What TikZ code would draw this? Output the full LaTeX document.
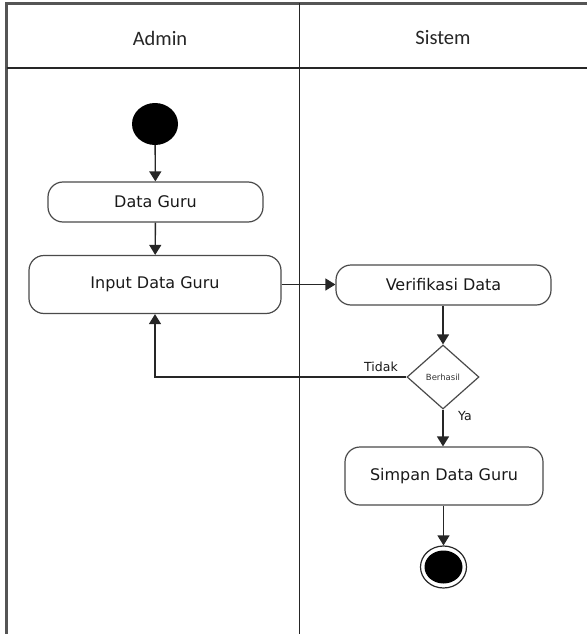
\documentclass[tikz,border=0pt]{standalone}
\usepackage{fontspec}
\setmainfont{DejaVu Sans}
\newfontfamily\hdrfont{Carlito}
\usetikzlibrary{shapes.geometric,arrows.meta}
\definecolor{linegray}{HTML}{4A4A4A}
\definecolor{framegray}{HTML}{555555}
\tikzset{
  act/.style={draw=linegray, line width=1.2pt, rounded corners=15pt, align=center,
    font=\fontsize{16}{19}\selectfont, text=black!90, inner sep=0pt},
  flow/.style={draw=black!85, line width=1.4pt, -{Triangle[width=12pt,length=10pt]}},
  lane/.style={draw=black!85, line width=1.1pt},
  hdr/.style={font=\hdrfont\fontsize{20.5}{24}\selectfont, text=black!85},
  lbl/.style={font=\fontsize{12.5}{14}\selectfont, text=black!90, inner sep=0pt}
}
\begin{document}
\begin{tikzpicture}[x=1pt,y=-1pt]
\useasboundingbox (0,0) rectangle (587,634);
% frame
\draw[draw=framegray, line width=2.6pt] (6.5,634) -- (6.5,3.5) -- (587,3.5);
\draw[lane] (6.5,68) -- (587,68);
\draw[lane] (299.5,3.5) -- (299.5,634);
\node[hdr] (hAdmin) at (160,38) {Admin};
\node[hdr] (hSistem) at (443,38) {Sistem};
% nodes
\node[ellipse, fill=black, minimum width=46pt, minimum height=42pt, inner sep=0pt] (start) at (155,124) {};
\node[act, minimum width=215pt, minimum height=40pt] (data) at (155.5,202) {Data Guru};
\node[act, minimum width=252pt, minimum height=58pt] (input) at (155,284.5) {Input Data Guru};
\node[act, minimum width=215pt, minimum height=40pt] (verif) at (443.5,285) {Verifikasi Data};
\node[diamond, draw=linegray, line width=1.2pt, minimum width=72pt, minimum height=64pt, inner sep=0pt,
  font=\fontsize{8.5}{10}\selectfont, text=black!80] (dec) at (443,377) {Berhasil};
\node[act, minimum width=198pt, minimum height=58pt] (simpan) at (444,476) {Simpan Data Guru};
\node[ellipse, draw=black!85, line width=1.2pt, minimum width=46pt, minimum height=42pt, inner sep=0pt] (end) at (443.5,567) {};
\node[ellipse, fill=black, minimum width=38pt, minimum height=33pt, inner sep=0pt] (endin) at (443.5,567) {};
% connectors
\draw[flow] (start) -- (data);
\draw[flow] (data) -- (input);
\draw[flow] (input.east) -- (input.east -| verif.west);
\draw[flow] (verif.south -| dec.north) -- (dec.north);
\draw[flow] (dec.west) -| (input.south);
\node[lbl] (tidak) at (381,367) {Tidak};
\draw[flow] (dec.south) -- (dec.south |- simpan.north);
\node[lbl] (ya) at (465,416) {Ya};
\draw[flow] (simpan.south -| end.north) -- (end.north);
\end{tikzpicture}
\end{document}
